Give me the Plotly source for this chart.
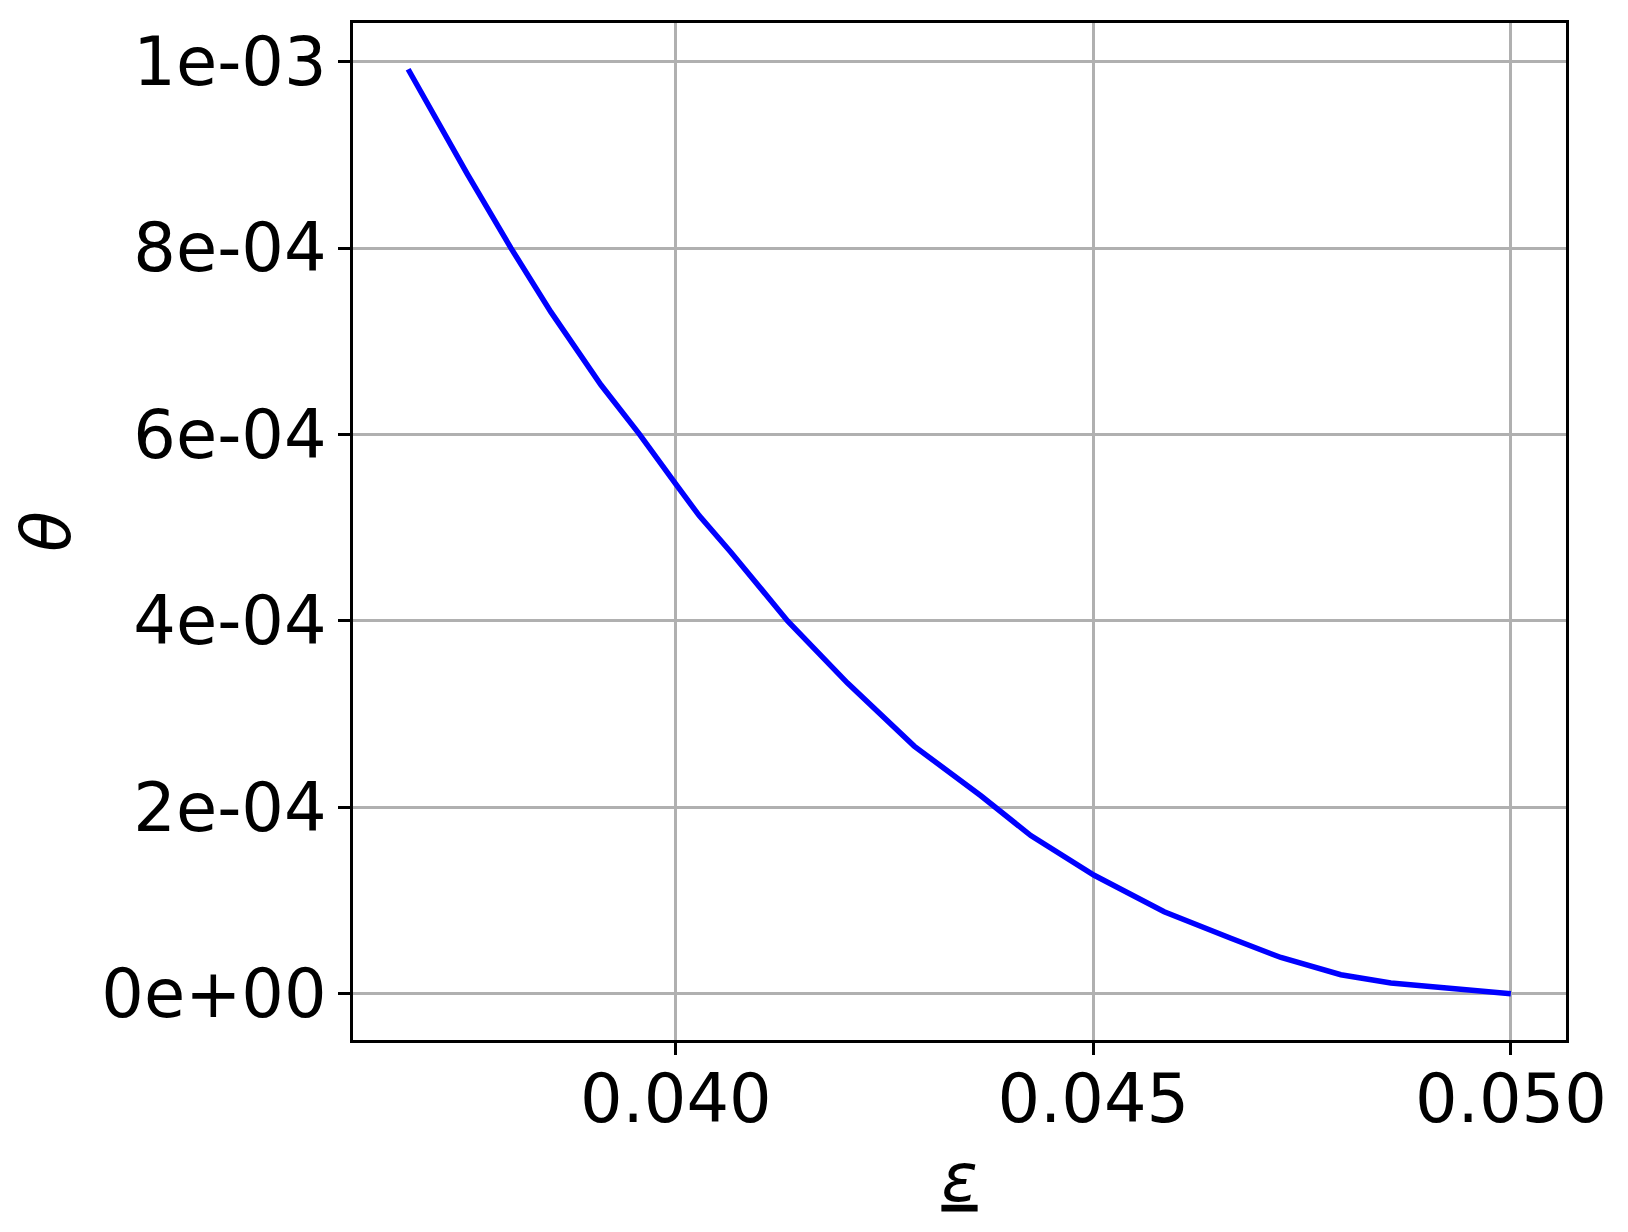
import plotly.graph_objects as go

# ── Data ──────────────────────────────────────────────────────────────────────
eps = [0.036794, 0.037106, 0.037505, 0.038024, 0.038503, 0.039102, 0.039561,
       0.040000, 0.040279, 0.040659, 0.041338, 0.042056, 0.042854, 0.043653,
       0.044251, 0.045010, 0.045848, 0.046647, 0.047246, 0.047964, 0.048563,
       0.050000]
theta = [0.9918e-3, 0.9413e-3, 0.8791e-3, 0.8001e-3, 0.7315e-3, 0.6533e-3,
         0.6006e-3, 0.5467e-3, 0.5129e-3, 0.4737e-3, 0.4000e-3, 0.3333e-3,
         0.2657e-3, 0.2124e-3, 0.1697e-3, 0.1271e-3, 0.0880e-3, 0.0595e-3,
         0.0389e-3, 0.0204e-3, 0.0115e-3, 0.0]

x_ticks = [0.040, 0.045, 0.050]
y_ticks = [0.0, 2e-4, 4e-4, 6e-4, 8e-4, 1e-3]
y_tick_text = ["0e+00", "2e-04", "4e-04", "6e-04", "8e-04", "1e-03"]

# ── Theme ─────────────────────────────────────────────────────────────────────
FONT = "DejaVu Sans, sans-serif"
GRID = "#b0b0b0"

AXIS = dict(
    showline=True, linecolor="black", linewidth=3, mirror=True,
    showgrid=True, gridcolor=GRID, gridwidth=2.5,
    ticks="outside", ticklen=12, tickwidth=2.5, tickcolor="black",
    zeroline=False,
    tickfont=dict(family=FONT, size=67, color="black"),
)

fig = go.Figure()
fig.add_trace(go.Scatter(
    x=eps, y=theta, mode="lines",
    line=dict(color="#0000ff", width=5.5),
    showlegend=False,
))

span_x = eps[-1] - eps[0]
span_y = theta[0] - theta[-1]

# page body keeps an 8px margin, so the figure is a bit smaller than the window
fig.update_layout(
    width=1612, height=1216,
    paper_bgcolor="white", plot_bgcolor="white",
    margin=dict(l=345, r=54, t=12, b=184),
    font=dict(family=FONT, color="black"),
    xaxis=dict(
        AXIS,
        range=[eps[0] - 0.05 * span_x, eps[-1] + 0.05 * span_x],
        tickvals=x_ticks, tickformat=".3f",
        ticklabelstandoff=-13,
        title=dict(text="<u><i>ε</i></u>", font=dict(family=FONT, size=67),
                   standoff=17),
    ),
    yaxis=dict(
        AXIS,
        range=[theta[-1] - 0.05 * span_y, theta[0] + 0.05 * span_y],
        tickvals=y_ticks, ticktext=y_tick_text,
        ticklabelstandoff=-2,
        title=dict(text="<i>θ</i>", font=dict(family=FONT, size=67),
                   standoff=33),
    ),
)

fig.write_html("out.html")
